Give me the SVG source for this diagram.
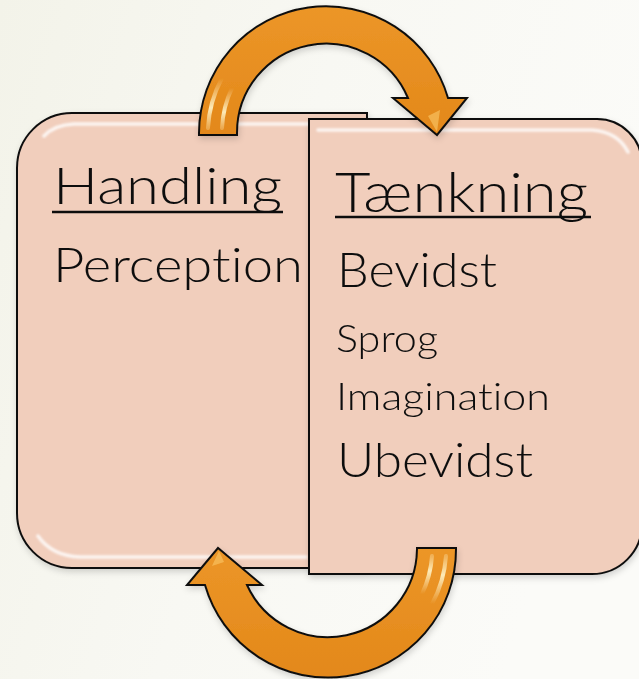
<svg xmlns="http://www.w3.org/2000/svg" width="639" height="679" viewBox="0 0 639 679">
  <defs>
    <linearGradient id="bg" x1="0" y1="0" x2="1" y2="0.3">
      <stop offset="0" stop-color="#F3F3E9"/>
      <stop offset="0.5" stop-color="#F8F8F3"/>
      <stop offset="1" stop-color="#FBFBF8"/>
    </linearGradient>
    <linearGradient id="orange" x1="0" y1="0" x2="0" y2="1">
      <stop offset="0" stop-color="#EC9628"/>
      <stop offset="1" stop-color="#E3881A"/>
    </linearGradient>
    <linearGradient id="streak" x1="0" y1="0" x2="0" y2="1">
      <stop offset="0" stop-color="#FFF4C8" stop-opacity="0"/>
      <stop offset="0.6" stop-color="#FFF4C8" stop-opacity="0.9"/>
      <stop offset="1" stop-color="#FFF4C8" stop-opacity="0.3"/>
    </linearGradient>
    <linearGradient id="streak2" x1="0" y1="1" x2="0" y2="0">
      <stop offset="0" stop-color="#FFF4C8" stop-opacity="0"/>
      <stop offset="0.6" stop-color="#FFF4C8" stop-opacity="0.9"/>
      <stop offset="1" stop-color="#FFF4C8" stop-opacity="0.3"/>
    </linearGradient>
    <filter id="shadow" x="-10%" y="-10%" width="120%" height="120%">
      <feDropShadow dx="1" dy="3" stdDeviation="3" flood-color="#000" flood-opacity="0.16"/>
    </filter>
    <filter id="soft" x="-5%" y="-20%" width="110%" height="140%">
      <feGaussianBlur stdDeviation="1"/>
    </filter>
  </defs>
  <style>
    .box { fill: #F1CEBC; stroke: #111; stroke-width: 2; }
    .gloss { fill: none; stroke: #FFFFFF; stroke-width: 3.5; stroke-linecap: round; opacity: 0.8; }
    .arrow { fill: url(#orange); stroke: #111; stroke-width: 2; stroke-linejoin: miter; }
    .t { font-family: Lato, "DejaVu Sans", "Liberation Sans", sans-serif; font-weight: 300; fill: #111; font-variant-ligatures: none; font-feature-settings: "liga" 0, "clig" 0; }
    .ul { stroke: #111; stroke-width: 2.5; }
    .st { fill: none; stroke-width: 4; stroke-linecap: round; }
  </style>

  <rect x="0" y="0" width="639" height="679" fill="url(#bg)"/>

  <g id="box-handling" filter="url(#shadow)">
    <path class="box" d="M72 113 L367 113 L367 568 L72 568 A55 55 0 0 1 17 513 L17 168 A55 55 0 0 1 72 113 Z"/>
    <path class="gloss" filter="url(#soft)" d="M44 136 Q54 125 74 124 L360 124"/>
    <path class="gloss" filter="url(#soft)" d="M38 536 Q52 556 80 557 L306 557"/>
    <text class="t" x="53" y="204" font-size="51" textLength="229" lengthAdjust="spacingAndGlyphs">Handling</text>
    <line class="ul" x1="52" y1="212" x2="283" y2="212"/>
    <text class="t" x="53" y="282" font-size="47" textLength="250" lengthAdjust="spacingAndGlyphs">Perception</text>
  </g>

  <g id="box-taenkning" filter="url(#shadow)">
    <path class="box" d="M309 119 L597 119 A45 45 0 0 1 642 164 L642 524 A50 50 0 0 1 592 574 L309 574 Z"/>
    <path class="gloss" filter="url(#soft)" d="M318 130 L592 130 Q618 132 628 152"/>
    <path class="gloss" filter="url(#soft)" d="M318 562 L592 562"/>
    <text class="t" x="335" y="212" font-size="55" textLength="253" lengthAdjust="spacingAndGlyphs">Tænkning</text>
    <line class="ul" x1="335" y1="217" x2="591" y2="217"/>
    <text class="t" x="337" y="287" font-size="47" textLength="160" lengthAdjust="spacingAndGlyphs">Bevidst</text>
    <text class="t" x="336" y="352" font-size="37" textLength="102" lengthAdjust="spacingAndGlyphs">Sprog</text>
    <text class="t" x="336" y="410" font-size="38" textLength="214" lengthAdjust="spacingAndGlyphs">Imagination</text>
    <text class="t" x="337" y="477" font-size="47" textLength="196" lengthAdjust="spacingAndGlyphs">Ubevidst</text>
  </g>

  <g id="connectors" filter="url(#shadow)">
    <g id="arrow-top">
      <path class="arrow" d="M199 135 L199 133 A127 127 0 0 1 448 98 L467 98 L437 135 L393 98 L408 98 A89 89 0 0 0 237 133 L237 135 Z"/>
      <path class="st" stroke="url(#streak)" d="M208 128 A118 118 0 0 1 222 78"/>
      <path class="st" stroke="url(#streak)" d="M222 128 A104 104 0 0 1 232 88"/>
      <path d="M437 132 L428 116 L440 110 Z" fill="#F8C060" opacity="0.7"/>
    </g>
    <g id="arrow-bottom">
      <path class="arrow" d="M456 548 L456 549 A128 128 0 0 1 205 585 L187 585 L218 548 L262 585 L247 585 A89 89 0 0 0 417 549 L417 548 Z"/>
      <path class="st" stroke="url(#streak2)" d="M446 556 A118 118 0 0 1 432 604"/>
      <path class="st" stroke="url(#streak2)" d="M432 556 A104 104 0 0 1 422 594"/>
      <path d="M219 551 L212 566 L224 562 Z" fill="#F8C060" opacity="0.7"/>
    </g>
  </g>
</svg>
